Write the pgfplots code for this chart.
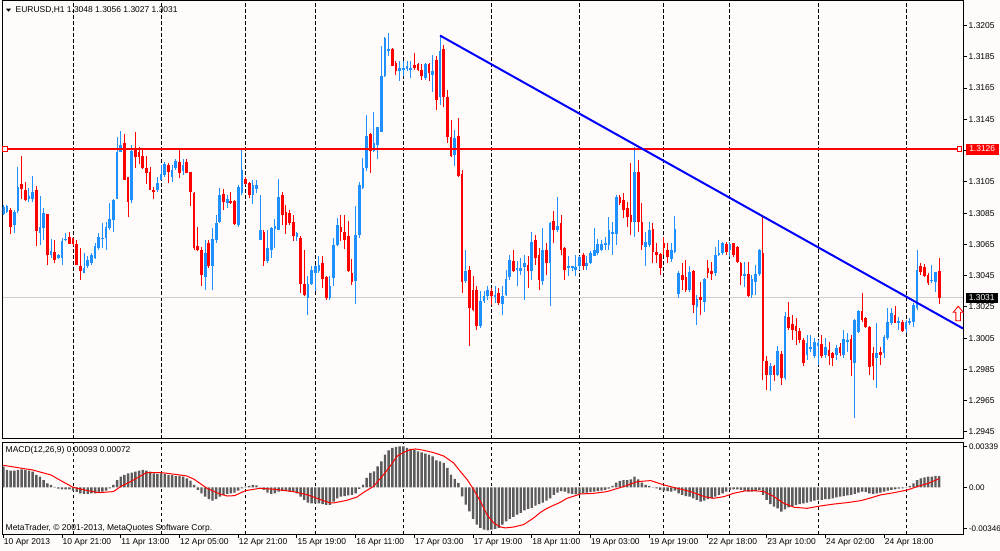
\documentclass[border=0pt]{standalone}
\usepackage{fontspec}
\setmainfont{Liberation Sans}
\usepackage{pgfplots}
\usepackage{pgfplotstable}
\pgfplotsset{compat=1.18}
\definecolor{bg}{RGB}{255,251,250}
\definecolor{bull}{RGB}{30,144,255}
\definecolor{bear}{RGB}{255,0,0}
\definecolor{histgray}{RGB}{92,92,92}
\definecolor{pline}{RGB}{205,205,205}

\pgfplotstableread{
i o h l c
0 1.30843 1.30903 1.30835 1.30892
1 1.30856 1.30903 1.30850 1.30896
2 1.30871 1.30882 1.30715 1.30764
3 1.30775 1.30871 1.30722 1.30856
4 1.30864 1.31148 1.30850 1.31016
5 1.31037 1.31216 1.30941 1.31003
6 1.30999 1.31052 1.30928 1.30935
7 1.30941 1.31009 1.30924 1.30960
8 1.30941 1.31088 1.30924 1.30988
9 1.30999 1.31024 1.30637 1.30737
10 1.30722 1.30960 1.30647 1.30758
11 1.30754 1.30882 1.30679 1.30850
12 1.30843 1.30847 1.30515 1.30579
13 1.30579 1.30683 1.30562 1.30609
14 1.30604 1.30679 1.30530 1.30551
15 1.30562 1.30587 1.30558 1.30583
16 1.30566 1.30690 1.30515 1.30669
17 1.30675 1.30726 1.30669 1.30683
18 1.30698 1.30728 1.30653 1.30653
19 1.30690 1.30694 1.30637 1.30653
20 1.30653 1.30679 1.30515 1.30515
21 1.30511 1.30630 1.30421 1.30477
22 1.30470 1.30594 1.30466 1.30502
23 1.30509 1.30577 1.30498 1.30551
24 1.30530 1.30598 1.30519 1.30583
25 1.30562 1.30658 1.30558 1.30637
26 1.30626 1.30722 1.30615 1.30700
27 1.30683 1.30786 1.30626 1.30690
28 1.30690 1.30790 1.30615 1.30764
29 1.30754 1.30914 1.30743 1.30813
30 1.30807 1.30941 1.30732 1.30935
31 1.30941 1.31335 1.30941 1.31244
32 1.31244 1.31376 1.31239 1.31286
33 1.31297 1.31354 1.31063 1.31063
34 1.31084 1.31084 1.30824 1.30924
35 1.30935 1.31286 1.30913 1.31248
36 1.31265 1.31371 1.31137 1.31212
37 1.31239 1.31276 1.31165 1.31207
38 1.31216 1.31261 1.31131 1.31137
39 1.31137 1.31216 1.31035 1.31105
40 1.31116 1.31143 1.30999 1.30999
41 1.30999 1.31020 1.30941 1.30982
42 1.30999 1.31084 1.30988 1.31041
43 1.31063 1.31158 1.31063 1.31099
44 1.31094 1.31180 1.31084 1.31163
45 1.31158 1.31173 1.31041 1.31116
46 1.31084 1.31158 1.31052 1.31126
47 1.31137 1.31195 1.31126 1.31186
48 1.31175 1.31261 1.31077 1.31109
49 1.31122 1.31195 1.31094 1.31158
50 1.31175 1.31197 1.31105 1.31109
51 1.31111 1.31116 1.30896 1.30984
52 1.30977 1.30984 1.30611 1.30626
53 1.30641 1.30764 1.30605 1.30615
54 1.30611 1.30636 1.30385 1.30455
55 1.30441 1.30679 1.30360 1.30594
56 1.30658 1.30679 1.30498 1.30509
57 1.30513 1.30754 1.30355 1.30684
58 1.30679 1.30839 1.30658 1.30786
59 1.30796 1.31009 1.30786 1.30967
60 1.30971 1.31003 1.30871 1.30924
61 1.30913 1.30967 1.30881 1.30939
62 1.30928 1.30982 1.30909 1.30913
63 1.30928 1.30935 1.30775 1.30779
64 1.30775 1.31031 1.30764 1.31016
65 1.30977 1.31254 1.30967 1.31126
66 1.31067 1.31084 1.31031 1.31037
67 1.31041 1.31052 1.30945 1.30967
68 1.30967 1.31062 1.30909 1.31031
69 1.31005 1.31062 1.30977 1.31031
70 1.30679 1.30967 1.30679 1.30743
71 1.30732 1.30743 1.30509 1.30541
72 1.30541 1.30743 1.30530 1.30626
73 1.30615 1.30764 1.30562 1.30758
74 1.30747 1.30811 1.30626 1.30769
75 1.30743 1.31067 1.30739 1.30956
76 1.30967 1.30988 1.30775 1.30839
77 1.30860 1.30903 1.30718 1.30775
78 1.30849 1.30871 1.30775 1.30786
79 1.30796 1.30839 1.30669 1.30705
80 1.30696 1.30732 1.30669 1.30722
81 1.30694 1.30701 1.30338 1.30398
82 1.30398 1.30611 1.30317 1.30328
83 1.30306 1.30445 1.30200 1.30398
84 1.30398 1.30513 1.30392 1.30483
85 1.30466 1.30519 1.30349 1.30509
86 1.30477 1.30573 1.30466 1.30519
87 1.30531 1.30574 1.30371 1.30431
88 1.30439 1.30446 1.30297 1.30307
89 1.30307 1.30446 1.30297 1.30382
90 1.30435 1.30691 1.30382 1.30644
91 1.30644 1.30819 1.30638 1.30772
92 1.30759 1.30836 1.30674 1.30729
93 1.30729 1.30840 1.30623 1.30680
94 1.30702 1.30797 1.30474 1.30478
95 1.30467 1.30559 1.30393 1.30410
96 1.30418 1.30893 1.30269 1.30712
97 1.30712 1.31049 1.30691 1.31027
98 1.31010 1.31202 1.31006 1.31138
99 1.31138 1.31475 1.31117 1.31341
100 1.31355 1.31362 1.31106 1.31245
101 1.31245 1.31496 1.31240 1.31298
102 1.31283 1.31404 1.31198 1.31398
103 1.31372 1.31916 1.31368 1.31730
104 1.31724 1.31979 1.31720 1.31969
105 1.31884 1.32001 1.31852 1.31901
106 1.31901 1.31905 1.31788 1.31794
107 1.31809 1.31824 1.31735 1.31756
108 1.31756 1.31820 1.31692 1.31781
109 1.31766 1.31824 1.31724 1.31781
110 1.31773 1.31820 1.31756 1.31788
111 1.31766 1.31824 1.31713 1.31781
112 1.31798 1.31873 1.31766 1.31777
113 1.31803 1.31809 1.31756 1.31766
114 1.31766 1.31803 1.31703 1.31724
115 1.31713 1.31813 1.31703 1.31803
116 1.31803 1.31809 1.31692 1.31745
117 1.31735 1.31862 1.31628 1.31756
118 1.31830 1.31852 1.31511 1.31575
119 1.31590 1.31990 1.31543 1.31888
120 1.31901 1.31926 1.31526 1.31596
121 1.31590 1.31639 1.31298 1.31340
122 1.31340 1.31447 1.31208 1.31213
123 1.31223 1.31383 1.31149 1.31330
124 1.31345 1.31458 1.31078 1.31085
125 1.31100 1.31127 1.30339 1.30410
126 1.30414 1.30616 1.30403 1.30482
127 1.30488 1.30510 1.29999 1.30244
128 1.30361 1.30446 1.30222 1.30233
129 1.30361 1.30382 1.30105 1.30126
130 1.30126 1.30350 1.30116 1.30286
131 1.30286 1.30350 1.30276 1.30318
132 1.30317 1.30381 1.30296 1.30360
133 1.30353 1.30370 1.30264 1.30317
134 1.30313 1.30381 1.30274 1.30328
135 1.30338 1.30370 1.30264 1.30274
136 1.30270 1.30381 1.30200 1.30321
137 1.30328 1.30487 1.30317 1.30428
138 1.30440 1.30583 1.30423 1.30551
139 1.30541 1.30611 1.30472 1.30477
140 1.30487 1.30541 1.30381 1.30498
141 1.30477 1.30562 1.30455 1.30502
142 1.30504 1.30583 1.30296 1.30530
143 1.30519 1.30573 1.30370 1.30477
144 1.30477 1.30732 1.30423 1.30668
145 1.30679 1.30711 1.30519 1.30562
146 1.30583 1.30626 1.30360 1.30419
147 1.30413 1.30754 1.30391 1.30615
148 1.30611 1.30658 1.30455 1.30530
149 1.30534 1.30796 1.30253 1.30786
150 1.30800 1.30866 1.30658 1.30743
151 1.30743 1.30956 1.30732 1.30768
152 1.30786 1.30839 1.30583 1.30615
153 1.30626 1.30636 1.30423 1.30487
154 1.30498 1.30573 1.30445 1.30513
155 1.30498 1.30513 1.30477 1.30509
156 1.30487 1.30583 1.30445 1.30504
157 1.30509 1.30573 1.30487 1.30568
158 1.30583 1.30594 1.30487 1.30513
159 1.30509 1.30573 1.30487 1.30530
160 1.30534 1.30605 1.30526 1.30594
161 1.30577 1.30754 1.30573 1.30611
162 1.30594 1.30683 1.30583 1.30654
163 1.30611 1.30679 1.30605 1.30654
164 1.30647 1.30700 1.30615 1.30658
165 1.30647 1.30828 1.30615 1.30743
166 1.30717 1.30796 1.30583 1.30732
167 1.30717 1.30966 1.30647 1.30956
168 1.30952 1.30966 1.30903 1.30913
169 1.30934 1.30977 1.30817 1.30871
170 1.30881 1.30924 1.30764 1.30824
171 1.30839 1.31169 1.30711 1.30796
172 1.30796 1.31275 1.30696 1.31116
173 1.31116 1.31190 1.30732 1.30796
174 1.30796 1.30913 1.30615 1.30647
175 1.30636 1.30732 1.30512 1.30668
176 1.30646 1.30796 1.30636 1.30742
177 1.30749 1.30785 1.30529 1.30604
178 1.30604 1.30657 1.30529 1.30583
179 1.30587 1.30593 1.30455 1.30497
180 1.30657 1.30700 1.30583 1.30625
181 1.30615 1.30657 1.30529 1.30572
182 1.30555 1.30657 1.30540 1.30615
183 1.30604 1.30832 1.30593 1.30749
184 1.30333 1.30482 1.30306 1.30470
185 1.30455 1.30529 1.30359 1.30423
186 1.30440 1.30551 1.30348 1.30359
187 1.30355 1.30512 1.30348 1.30476
188 1.30482 1.30487 1.30210 1.30263
189 1.30252 1.30327 1.30135 1.30299
190 1.30312 1.30412 1.30199 1.30295
191 1.30284 1.30433 1.30220 1.30427
192 1.30497 1.30551 1.30433 1.30465
193 1.30482 1.30540 1.30423 1.30461
194 1.30465 1.30636 1.30448 1.30583
195 1.30583 1.30678 1.30576 1.30597
196 1.30597 1.30668 1.30583 1.30657
197 1.30653 1.30668 1.30583 1.30604
198 1.30614 1.30668 1.30568 1.30653
199 1.30657 1.30661 1.30572 1.30583
200 1.30636 1.30640 1.30529 1.30540
201 1.30529 1.30540 1.30391 1.30448
202 1.30448 1.30540 1.30380 1.30461
203 1.30461 1.30540 1.30316 1.30321
204 1.30327 1.30455 1.30306 1.30427
205 1.30412 1.30519 1.30327 1.30461
206 1.30461 1.30619 1.30448 1.30614
207 1.30597 1.30828 1.29784 1.29901
208 1.29901 1.29933 1.29720 1.29816
209 1.29816 1.29890 1.29709 1.29869
210 1.29869 1.29880 1.29773 1.29816
211 1.29816 1.29997 1.29805 1.29965
212 1.29950 1.29965 1.29752 1.29795
213 1.29795 1.30220 1.29784 1.30193
214 1.30184 1.30284 1.30103 1.30114
215 1.30142 1.30199 1.30039 1.30103
216 1.30125 1.30178 1.30008 1.30099
217 1.30093 1.30114 1.30018 1.30039
218 1.30039 1.30050 1.29869 1.29890
219 1.29943 1.30071 1.29911 1.30018
220 1.29979 1.30071 1.29964 1.29992
221 1.29933 1.30050 1.29922 1.30028
222 1.30001 1.30039 1.29879 1.30018
223 1.30013 1.30071 1.29922 1.29933
224 1.29943 1.30050 1.29922 1.29992
225 1.29975 1.30028 1.29879 1.29933
226 1.29954 1.29964 1.29869 1.29922
227 1.29943 1.30007 1.29911 1.29986
228 1.29996 1.30018 1.29933 1.29954
229 1.29943 1.30103 1.29922 1.30043
230 1.30028 1.30082 1.29964 1.30039
231 1.30043 1.30071 1.29805 1.29911
232 1.29890 1.30171 1.29538 1.30167
233 1.30092 1.30231 1.30082 1.30226
234 1.30226 1.30337 1.30156 1.30167
235 1.30177 1.30188 1.30114 1.30120
236 1.30120 1.30128 1.29815 1.29864
237 1.29958 1.29996 1.29784 1.29869
238 1.29922 1.30146 1.29730 1.29954
239 1.29964 1.29996 1.29879 1.29943
240 1.29958 1.30071 1.29922 1.30056
241 1.30050 1.30241 1.30039 1.30156
242 1.30150 1.30241 1.30135 1.30209
243 1.30199 1.30256 1.30146 1.30150
244 1.30150 1.30188 1.30103 1.30163
245 1.30156 1.30167 1.30092 1.30099
246 1.30107 1.30167 1.30082 1.30156
247 1.30146 1.30178 1.30135 1.30163
248 1.30156 1.30273 1.30120 1.30263
249 1.30241 1.30614 1.30231 1.30486
250 1.30512 1.30529 1.30454 1.30476
251 1.30508 1.30525 1.30439 1.30448
252 1.30454 1.30465 1.30390 1.30401
253 1.30418 1.30518 1.30401 1.30425
254 1.30412 1.30476 1.30348 1.30476
255 1.30480 1.30560 1.30270 1.30310
}\candles

\pgfplotstableread{
i m
0 0.00173
1 0.00145
2 0.00140
3 0.00140
4 0.00145
5 0.00151
6 0.00145
7 0.00140
8 0.00131
9 0.00103
10 0.00089
11 0.00061
12 0.00033
13 0.00020
14 0.00003
15 -0.00011
16 -0.00017
17 -0.00017
18 -0.00017
19 -0.00028
20 -0.00039
21 -0.00050
22 -0.00056
23 -0.00056
24 -0.00050
25 -0.00050
26 -0.00045
27 -0.00036
28 -0.00028
29 -0.00008
30 0.00020
31 0.00061
32 0.00089
33 0.00103
34 0.00117
35 0.00123
36 0.00131
37 0.00140
38 0.00145
39 0.00140
40 0.00131
41 0.00117
42 0.00112
43 0.00117
44 0.00112
45 0.00103
46 0.00103
47 0.00095
48 0.00095
49 0.00089
50 0.00075
51 0.00056
52 0.00020
53 -0.00022
54 -0.00050
55 -0.00078
56 -0.00100
57 -0.00112
58 -0.00100
59 -0.00078
60 -0.00064
61 -0.00056
62 -0.00050
63 -0.00045
64 -0.00028
65 -0.00008
66 0.00006
67 0.00011
68 0.00020
69 0.00017
70 -0.00002
71 -0.00022
72 -0.00045
73 -0.00056
74 -0.00050
75 -0.00036
76 -0.00033
77 -0.00031
78 -0.00036
79 -0.00039
80 -0.00050
81 -0.00078
82 -0.00106
83 -0.00128
84 -0.00134
85 -0.00134
86 -0.00134
87 -0.00140
88 -0.00148
89 -0.00148
90 -0.00120
91 -0.00092
92 -0.00078
93 -0.00073
94 -0.00067
95 -0.00064
96 -0.00050
97 -0.00014
98 0.00022
99 0.00078
100 0.00120
101 0.00134
102 0.00176
103 0.00218
104 0.00273
105 0.00310
106 0.00329
107 0.00338
108 0.00343
109 0.00343
110 0.00329
111 0.00321
112 0.00315
113 0.00301
114 0.00293
115 0.00282
116 0.00273
117 0.00259
118 0.00226
119 0.00218
120 0.00204
121 0.00162
122 0.00106
123 0.00070
124 0.00036
125 -0.00075
126 -0.00145
127 -0.00201
128 -0.00265
129 -0.00312
130 -0.00340
131 -0.00354
132 -0.00360
133 -0.00354
134 -0.00349
135 -0.00340
136 -0.00312
137 -0.00285
138 -0.00265
139 -0.00248
140 -0.00229
141 -0.00215
142 -0.00193
143 -0.00181
144 -0.00173
145 -0.00153
146 -0.00140
147 -0.00128
148 -0.00112
149 -0.00092
150 -0.00064
151 -0.00045
152 -0.00031
153 -0.00036
154 -0.00050
155 -0.00056
156 -0.00059
157 -0.00056
158 -0.00050
159 -0.00045
160 -0.00039
161 -0.00036
162 -0.00033
163 -0.00028
164 -0.00022
165 -0.00011
166 0.00011
167 0.00039
168 0.00053
169 0.00061
170 0.00061
171 0.00067
172 0.00089
173 0.00067
174 0.00039
175 0.00020
176 0.00011
177 0.00002
178 -0.00008
179 -0.00022
180 -0.00028
181 -0.00033
182 -0.00036
183 -0.00028
184 -0.00050
185 -0.00064
186 -0.00073
187 -0.00078
188 -0.00092
189 -0.00106
190 -0.00120
191 -0.00112
192 -0.00100
193 -0.00092
194 -0.00078
195 -0.00064
196 -0.00050
197 -0.00036
198 -0.00022
199 -0.00017
200 -0.00017
201 -0.00022
202 -0.00028
203 -0.00036
204 -0.00036
205 -0.00031
206 -0.00022
207 -0.00064
208 -0.00106
209 -0.00140
210 -0.00162
211 -0.00176
212 -0.00204
213 -0.00184
214 -0.00167
215 -0.00156
216 -0.00148
217 -0.00140
218 -0.00134
219 -0.00128
220 -0.00120
221 -0.00112
222 -0.00106
223 -0.00106
224 -0.00100
225 -0.00100
226 -0.00092
227 -0.00084
228 -0.00078
229 -0.00073
230 -0.00067
231 -0.00064
232 -0.00056
233 -0.00045
234 -0.00036
235 -0.00039
236 -0.00050
237 -0.00056
238 -0.00050
239 -0.00045
240 -0.00036
241 -0.00028
242 -0.00022
243 -0.00017
244 -0.00011
245 -0.00008
246 -0.00002
247 0.00011
248 0.00033
249 0.00061
250 0.00075
251 0.00084
252 0.00089
253 0.00089
254 0.00095
255 0.00093
}\macdhist

\pgfplotsset{
  mtaxis/.style={
    scale only axis, anchor=south west,
    width=960.5bp,
    xmin=-0.218, xmax=261.5,
    axis line style={black, line width=1bp},
    clip mode=individual,
    tick align=outside, major tick length=4bp,
    tick style={black, line width=1bp},
    tick label style={font=\fontsize{8.5}{10}\selectfont},
    extra x ticks={19,43,66,85,109,133,157,180,198,222,246},
    extra x tick labels={},
    extra x tick style={grid=major, major tick length=0pt},
    major grid style={black, line width=1bp, dash pattern=on 3.5bp off 2.5bp},
    ytick pos=right, yticklabel pos=right,
    yticklabel style={anchor=west, inner sep=0pt, xshift=1.5bp},
    scaled y ticks=false, scaled x ticks=false,
  },
  candle/.style={draw=none, mark=none, forget plot,
    restrict y to domain=1.2:1.4,
    error bars/.cd, y dir=plus, y explicit, error mark=none},
}

\begin{document}
\begin{tikzpicture}[font=\fontsize{8.5}{10}\selectfont]
\fill[bg] (0bp,0bp) rectangle (1000bp,551bp);

% ---------------- main price panel ----------------
\begin{axis}[mtaxis,
  at={(2.5bp,112bp)}, height=438bp,
  ymin=1.29405, ymax=1.32207,
  xtick=\empty,
  ytick={1.2945,1.2965,1.2985,1.3005,1.3025,1.3045,1.3065,1.3085,1.3105,1.3125,1.3145,1.3165,1.3185,1.3205},
  yticklabels={1.2945,1.2965,1.2985,1.3005,1.3025,1.3045,1.3065,1.3085,1.3105,1.3125,1.3145,1.3165,1.3185,1.3205},
]
% bid line
\addplot[draw=pline, line width=1.5bp, mark=none, forget plot] coordinates {(-0.218,1.3031) (261.5,1.3031)};
% bull wicks and bodies
\addplot[candle, error bar style={draw=bull, line width=1bp}]
  table[x=i, y expr={ifthenelse(\thisrow{c}>=\thisrow{o},\thisrow{l},0)},
        y error plus expr={\thisrow{h}-\thisrow{l}}] {\candles};
\addplot[candle, error bar style={draw=bull, line width=2.7bp}]
  table[x=i, y expr={ifthenelse(\thisrow{c}>=\thisrow{o},\thisrow{o},0)},
        y error plus expr={max(\thisrow{c}-\thisrow{o},0.00003)}] {\candles};
% bear wicks and bodies
\addplot[candle, error bar style={draw=bear, line width=1bp}]
  table[x=i, y expr={ifthenelse(\thisrow{c}<\thisrow{o},\thisrow{l},0)},
        y error plus expr={\thisrow{h}-\thisrow{l}}] {\candles};
\addplot[candle, error bar style={draw=bear, line width=2.7bp}]
  table[x=i, y expr={ifthenelse(\thisrow{c}<\thisrow{o},\thisrow{c},0)},
        y error plus expr={max(\thisrow{o}-\thisrow{c},0.00003)}] {\candles};
% horizontal level 1.3126
\addplot[color=red, solid, line width=1.15bp, mark=none, forget plot] coordinates {(0.45,1.3126) (260.6,1.3126)};
\addplot[color=red, only marks, mark=square*, mark size=2.2bp,
  mark options={fill=white, draw=red, solid, line width=0.9bp}, forget plot]
  coordinates {(0.45,1.3126) (260.6,1.3126)};
% trend line
\addplot[draw=blue, line width=2bp, mark=none, forget plot] coordinates {(119,1.31986) (261.5,1.30112)};
% price boxes
\node[fill=bear, text=white, anchor=west, inner sep=0pt, minimum width=33bp, minimum height=11bp, xshift=2.5bp]
  at ({rel axis cs:1,0}|-{axis cs:0,1.3126}) {1.3126};
\node[fill=black, text=white, anchor=west, inner sep=0pt, minimum width=32bp, minimum height=10bp, xshift=2.5bp]
  at ({rel axis cs:1,0}|-{axis cs:0,1.3031}) {1.3031};
% ask arrow
\begin{scope}[shift={(axis cs:260.2,1.30208)}]
\draw[bear, line width=0.9bp, fill=bg, line join=miter]
  (0bp,7.2bp) -- (-5bp,1.2bp) -- (-2.3bp,1.2bp) -- (-2.3bp,-7.3bp) -- (2.3bp,-7.3bp) -- (2.3bp,1.2bp) -- (5bp,1.2bp) -- cycle;
\end{scope}
\end{axis}

% ---------------- MACD panel ----------------
\begin{axis}[mtaxis,
  at={(2.5bp,16.7bp)}, height=92bp,
  ymin=-0.003934, ymax=0.003767,
  xtick={0,16,32,48,64,80,96,112,128,144,160,176,192,208,224,240},
  xticklabels={10 Apr 2013,10 Apr 21:00,11 Apr 13:00,12 Apr 05:00,12 Apr 21:00,15 Apr 19:00,16 Apr 11:00,17 Apr 03:00,17 Apr 19:00,18 Apr 11:00,19 Apr 03:00,19 Apr 19:00,22 Apr 18:00,23 Apr 10:00,24 Apr 02:00,24 Apr 18:00},
  xtick pos=left,
  xticklabel style={anchor=north west, inner sep=0pt, xshift=0.5bp},
  ytick={-0.00346,0,0.00339},
  yticklabels={-0.00346,0.00,0.00339},
  yticklabel style={anchor=west, inner sep=0pt, xshift=0.3bp, font=\fontsize{8.1}{10}\selectfont},
]
\addplot[ybar, bar width=2.4bp, fill=histgray, draw=none, forget plot] table[x=i, y=m] {\macdhist};
\addplot[draw=red, line width=1bp, mark=none, forget plot] coordinates {
(0,0.00184) (8,0.00145) (13,0.00103) (17,0.00033) (19,0.00000) (23,-0.00028) (26,-0.00045)
(30,-0.00036) (32,0.00006) (35.5,0.00061) (39,0.00123) (43,0.00123) (46,0.00112) (50,0.00095)
(52,0.00067) (55.5,-0.00008) (59,-0.00056) (61,-0.00073) (63,-0.00070) (66,-0.00028) (70,-0.00008)
(74,-0.00017) (79,-0.00036) (83,-0.00064) (86.4,-0.00103) (89.1,-0.00131) (90,-0.00131)
(93.6,-0.00109) (96.4,-0.00081) (98.2,-0.00042) (100.9,0.00008) (103.6,0.00106) (105.5,0.00181)
(107.3,0.00260) (109.1,0.00293) (110.9,0.00315) (112.3,0.00321) (114.5,0.00310) (117.3,0.00290)
(120,0.00262) (122.7,0.00204) (124.5,0.00134) (126.4,0.00064) (128.2,-0.00020) (130,-0.00117)
(131.8,-0.00229) (133.6,-0.00298) (135.5,-0.00332) (136.8,-0.00340) (139.1,-0.00332)
(141.8,-0.00312) (144.5,-0.00257) (146.4,-0.00209) (148.2,-0.00175) (151.8,-0.00125)
(153.6,-0.00092) (157.3,-0.00056) (161,-0.00050) (164.5,-0.00036) (169,0.00006) (172.7,0.00047)
(176.4,0.00056) (180,0.00020) (183.6,-0.00008) (187.3,-0.00036) (191,-0.00078) (193.6,-0.00092)
(196.4,-0.00078) (199,-0.00050) (202,-0.00031) (204.5,-0.00028) (207.3,-0.00036) (210,-0.00078)
(212.7,-0.00134) (215.5,-0.00167) (219,-0.00176) (222.7,-0.00156) (226.4,-0.00140) (230,-0.00128)
(233.6,-0.00112) (236,-0.00092) (239,-0.00064) (242.7,-0.00045) (246.4,-0.00022) (249,0.00006)
(252,0.00033) (255,0.00072)};
\end{axis}

% texts
\fill[black] (6bp,542.3bp) -- (11bp,542.3bp) -- (8.5bp,539.3bp) -- cycle;
\node[anchor=west, inner sep=0pt] at (15.5bp,541bp) {EURUSD,H1 1.3048 1.3056 1.3027 1.3031};
\node[anchor=west, inner sep=0pt] at (5.5bp,100.3bp) {MACD(12,26,9) 0.00093 0.00072};
\node[anchor=west, inner sep=0pt] at (5.5bp,22.7bp) {MetaTrader, © 2001-2013, MetaQuotes Software Corp.};
\pgfresetboundingbox
\path (0bp,0bp) rectangle (1000bp,551bp);
\end{tikzpicture}
\end{document}
